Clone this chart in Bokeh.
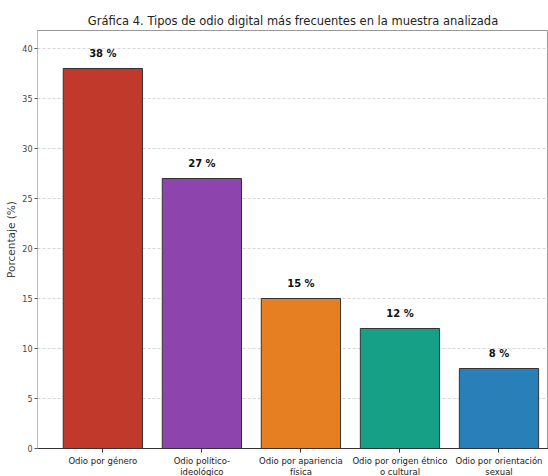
from bokeh.plotting import figure
from bokeh.models import Range1d, FixedTicker, ColumnDataSource, LabelSet
from bokeh.core.properties import value
from bokeh.embed import file_html
from bokeh.resources import INLINE

categories = ["Odio por género", "Odio político-\nideológico", "Odio por apariencia\nfísica",
              "Odio por origen étnico\no cultural", "Odio por orientación\nsexual"]
values = [38, 27, 15, 12, 8]
colors = ["#c0392b", "#8e44ad", "#e67e22", "#16a085", "#2980b9"]
labels = [f"{v} %" for v in values]
y_ticks = [0, 5, 10, 15, 20, 25, 30, 35, 40]

xs = list(range(len(categories)))
src = ColumnDataSource(dict(x=xs, top=values, color=colors, label=labels,
                            ly=[v + 1.0 for v in values]))

p = figure(frame_width=511, frame_height=418, output_backend="svg", toolbar_location=None,
           x_range=Range1d(-0.66, 4.5), y_range=Range1d(0, 41.8),
           min_border_left=37, min_border_right=0, min_border_top=30, min_border_bottom=28,
           title="Gráfica 4. Tipos de odio digital más frecuentes en la muestra analizada")
p.title.align = "center"
p.title.text_font = "DejaVu Sans"
p.title.text_font_size = "11.5px"
p.title.text_font_style = "normal"
p.title.text_color = "#222222"
p.title.offset = 40
p.title.standoff = 6

p.vbar(x="x", top="top", width=0.8, bottom=0, fill_color="color", line_color="#333333",
       line_width=1, fill_alpha=1.0, source=src)

lbl = LabelSet(x="x", y="ly", text="label", source=src, text_align="center",
               text_baseline="bottom", text_font_size="10px", text_font_style="bold",
               text_font=value("DejaVu Sans"), text_color="#111111")
p.add_layout(lbl)

p.xaxis.ticker = FixedTicker(ticks=xs)
p.xaxis.major_label_overrides = {i: c for i, c in enumerate(categories)}
p.xaxis.major_label_text_font_size = "8.5px"
p.xaxis.major_label_text_font = "DejaVu Sans"
p.xaxis.major_label_text_color = "#222222"
p.xaxis.major_label_text_line_height = 1.1
p.xaxis.axis_line_color = "#333333"
p.xaxis.major_tick_line_color = "#333333"
p.xaxis.major_tick_out = 4
p.xaxis.major_tick_in = 0
p.xaxis.minor_tick_line_color = None
p.xaxis.major_label_standoff = 3

p.yaxis.ticker = FixedTicker(ticks=y_ticks)
p.yaxis.axis_label = "Porcentaje (%)"
p.yaxis.axis_label_text_font_size = "10.5px"
p.yaxis.axis_label_text_font_style = "normal"
p.yaxis.axis_label_text_font = "DejaVu Sans"
p.yaxis.axis_label_standoff = 2
p.yaxis.major_label_text_font_size = "8px"
p.yaxis.major_label_text_font = "DejaVu Sans"
p.yaxis.major_label_standoff = 2
p.yaxis.axis_line_color = "#bbbbbb"
p.yaxis.major_tick_line_color = "#555555"
p.yaxis.major_tick_out = 3
p.yaxis.major_tick_in = 0
p.yaxis.minor_tick_line_color = None

p.xgrid.grid_line_color = None
p.ygrid.grid_line_color = "#cccccc"
p.ygrid.grid_line_dash = "3 2"
p.ygrid.grid_line_alpha = 0.8
p.outline_line_color = "#999999"
p.background_fill_color = "white"
p.border_fill_color = "white"

open("out.html", "w").write(file_html(p, INLINE))
